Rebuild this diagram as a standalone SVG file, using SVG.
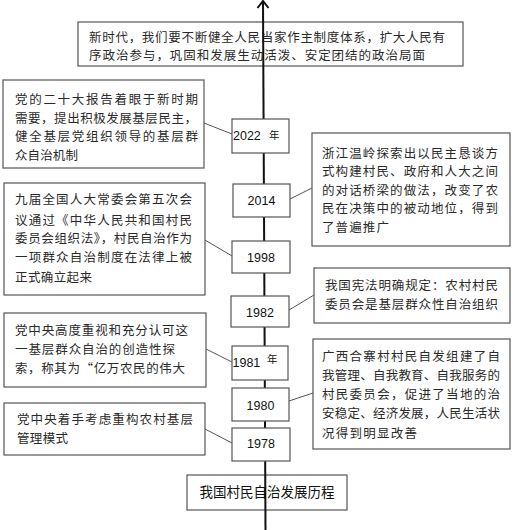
<svg xmlns="http://www.w3.org/2000/svg" width="513" height="530" viewBox="0 0 513 530">
<style>
.box{fill:#fff;stroke:#555;stroke-width:1.2}
.cn{font-family:"Noto Sans CJK SC","Noto Sans",sans-serif;font-size:12.5px;fill:#2a2a2a}
.yr{font-family:"Liberation Sans",Arial,sans-serif;font-size:12.5px;fill:#111}
.nian{font-family:"Noto Sans CJK SC",sans-serif;font-size:10.5px;fill:#111}
.title{font-family:"Noto Sans CJK SC","Noto Sans",sans-serif;font-size:13.5px;fill:#111;text-anchor:middle}
.conn line{stroke:#555;stroke-width:1}
</style>
<rect width="513" height="530" fill="#fff"/>
<g id="top-box">
<rect class="box" x="78" y="22" width="385" height="44"/>
<text class="cn" x="89" y="41.5" textLength="356" lengthAdjust="spacing">新时代，我们要不断健全人民当家作主制度体系，扩大人民有</text>
<text class="cn" x="89" y="59.5" textLength="336" lengthAdjust="spacing">序政治参与，巩固和发展生动活泼、安定团结的政治局面</text>
</g>
<g id="title">
<rect class="box" x="187" y="475" width="160" height="35"/>
<text class="title" x="267" y="497">我国村民自治发展历程</text>
</g>
<g id="axis">
<line x1="263" y1="1" x2="265.5" y2="530" stroke="#111" stroke-width="2"/>
<polyline points="257.5,8 263,1 268.5,8" fill="none" stroke="#111" stroke-width="2"/>
</g>
<g class="conn" id="connectors">
<line x1="204" y1="123" x2="232" y2="134"/>
<line x1="290" y1="199" x2="312" y2="188"/>
<line x1="205" y1="240" x2="232" y2="256"/>
<line x1="289" y1="310" x2="314" y2="295"/>
<line x1="206" y1="349" x2="232" y2="362"/>
<line x1="289" y1="401" x2="313" y2="393"/>
<line x1="205" y1="429" x2="232" y2="443"/>
</g>
<g id="y2022">
<rect class="box" x="232" y="119" width="57" height="34"/>
<text class="yr" x="233" y="140">2022</text>
<text class="nian" x="269" y="139">年</text>
</g>
<g id="y2014">
<rect class="box" x="233" y="184" width="57" height="33"/>
<text class="yr" x="261.5" y="205" text-anchor="middle">2014</text>
</g>
<g id="y1998">
<rect class="box" x="232" y="241" width="58" height="32"/>
<text class="yr" x="261" y="261.5" text-anchor="middle">1998</text>
</g>
<g id="y1982">
<rect class="box" x="231" y="296" width="58" height="31"/>
<text class="yr" x="260" y="316.5" text-anchor="middle">1982</text>
</g>
<g id="y1981">
<rect class="box" x="232" y="346" width="56" height="34"/>
<text class="yr" x="232.5" y="366.5">1981</text>
<text class="nian" x="267" y="363">年</text>
</g>
<g id="y1980">
<rect class="box" x="232" y="388" width="57" height="33"/>
<text class="yr" x="260.5" y="409.5" text-anchor="middle">1980</text>
</g>
<g id="y1978">
<rect class="box" x="232" y="428" width="58" height="33"/>
<text class="yr" x="261" y="447.5" text-anchor="middle">1978</text>
</g>
<g id="n2022">
<rect class="box" x="3" y="80" width="201" height="88"/>
<text class="cn" x="15" y="103.5" textLength="183" lengthAdjust="spacing">党的二十大报告着眼于新时期</text>
<text class="cn" x="15" y="122.5" textLength="182" lengthAdjust="spacing">需要，提出积极发展基层民主，</text>
<text class="cn" x="15" y="140.5" textLength="183" lengthAdjust="spacing">健全基层党组织领导的基层群</text>
<text class="cn" x="15" y="159.5" textLength="63" lengthAdjust="spacing">众自治机制</text>
</g>
<g id="n2014">
<rect class="box" x="312" y="133" width="198" height="113"/>
<text class="cn" x="322" y="157.5" textLength="176" lengthAdjust="spacing">浙江温岭探索出以民主恳谈方</text>
<text class="cn" x="322" y="175.5" textLength="176" lengthAdjust="spacing">式构建村民、政府和人大之间</text>
<text class="cn" x="322" y="194.5" textLength="176" lengthAdjust="spacing">的对话桥梁的做法，改变了农</text>
<text class="cn" x="322" y="212.5" textLength="176" lengthAdjust="spacing">民在决策中的被动地位，得到</text>
<text class="cn" x="322" y="231.5" textLength="67" lengthAdjust="spacing">了普遍推广</text>
</g>
<g id="n1998">
<rect class="box" x="4" y="183" width="201" height="112"/>
<text class="cn" x="15" y="203.5" textLength="177" lengthAdjust="spacing">九届全国人大常委会第五次会</text>
<text class="cn" x="15" y="224.5" textLength="177" lengthAdjust="spacing">议通过《中华人民共和国村民</text>
<text class="cn" x="15" y="242.5" textLength="177" lengthAdjust="spacing">委员会组织法》，村民自治作为</text>
<text class="cn" x="15" y="261.5" textLength="177" lengthAdjust="spacing">一项群众自治制度在法律上被</text>
<text class="cn" x="15" y="281.5" textLength="77" lengthAdjust="spacing">正式确立起来</text>
</g>
<g id="n1982">
<rect class="box" x="314" y="268" width="196" height="55"/>
<text class="cn" x="325" y="289.5" textLength="173" lengthAdjust="spacing">我国宪法明确规定：农村村民</text>
<text class="cn" x="325" y="308.5" textLength="173" lengthAdjust="spacing">委员会是基层群众性自治组织</text>
</g>
<g id="n1981">
<rect class="box" x="4" y="313" width="202" height="74"/>
<text class="cn" x="15" y="335" textLength="173" lengthAdjust="spacing">党中央高度重视和充分认可这</text>
<text class="cn" x="15" y="353.5" textLength="160" lengthAdjust="spacing">一基层群众自治的创造性探</text>
<text class="cn" x="15" y="372.5" textLength="170" lengthAdjust="spacing">索，称其为“亿万农民的伟大</text>
</g>
<g id="n1980">
<rect class="box" x="313" y="339" width="197" height="110"/>
<text class="cn" x="322" y="360.5" textLength="178" lengthAdjust="spacing">广西合寨村村民自发组建了自</text>
<text class="cn" x="322" y="379.5" textLength="178" lengthAdjust="spacing">我管理、自我教育、自我服务的</text>
<text class="cn" x="322" y="398.5" textLength="178" lengthAdjust="spacing">村民委员会，促进了当地的治</text>
<text class="cn" x="322" y="417.5" textLength="178" lengthAdjust="spacing">安稳定、经济发展，人民生活状</text>
<text class="cn" x="322" y="437.5" textLength="95" lengthAdjust="spacing">况得到明显改善</text>
</g>
<g id="n1978">
<rect class="box" x="4" y="403" width="201" height="52"/>
<text class="cn" x="17" y="423.5" textLength="176" lengthAdjust="spacing">党中央着手考虑重构农村基层</text>
<text class="cn" x="17" y="442.5" textLength="51" lengthAdjust="spacing">管理模式</text>
</g>
</svg>
